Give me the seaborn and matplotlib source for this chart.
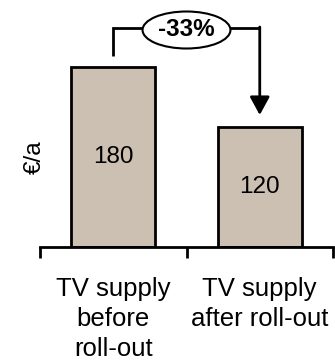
import matplotlib
matplotlib.use("Agg")
import matplotlib.pyplot as plt
from matplotlib.patches import Ellipse
import seaborn as sns

categories = ["TV supply\nbefore\nroll-out", "TV supply\nafter roll-out"]
values = [180, 120]
change_label = "-33%"

sns.set_theme(style="white")
plt.rcParams["font.family"] = ["Liberation Sans", "DejaVu Sans"]
plt.rcParams["text.color"] = "black"
plt.rcParams["xtick.color"] = "black"

bar_color = "#CBC0B1"

fig = plt.figure(figsize=(3.35, 3.62), dpi=100)
ax = fig.add_axes([40 / 335, 115 / 362, 293 / 335, 247 / 362])

sns.barplot(x=list(range(len(values))), y=values, color=bar_color,
            edgecolor="black", linewidth=2, width=0.57, saturation=1, ax=ax)

ax.set_xlim(-0.5, 1.5)
ax.set_ylim(0, 247)

# category boundaries carry the tick marks, centres carry the labels
ax.set_xticks([-0.5, 0.5, 1.5])
ax.set_xticklabels([])
ax.set_xticks([0, 1], minor=True)
ax.set_xticklabels(categories, minor=True, fontsize=18.5, linespacing=1.33,
                   color="black")
ax.tick_params(axis="x", which="major", length=8, width=2, color="black",
               direction="out", bottom=True)
ax.tick_params(axis="x", which="minor", length=0, pad=21.5)
ax.set_yticks([])
ax.set_ylabel("")
ax.set_xlabel("")

for s in ["left", "top", "right"]:
    ax.spines[s].set_visible(False)
ax.spines["bottom"].set_color("black")
ax.spines["bottom"].set_linewidth(2)

for i, v in enumerate(values):
    ax.text(i, v / 2, str(v), ha="center", va="center", fontsize=17.5,
            color="black")

fig.text(35 / 335, 1 - 157 / 362, "€/a", rotation=90, ha="center",
         va="center", fontsize=17.5, color="black")

# change bracket from the first bar to the second
top_y = 219
ax.plot([0, 0, 0.5], [values[0] + 11, top_y, top_y], color="black", lw=2,
        clip_on=False, solid_capstyle="butt", solid_joinstyle="miter")
ax.plot([0.5, 1], [top_y, top_y], color="black", lw=2, clip_on=False,
        solid_capstyle="butt", solid_joinstyle="miter")
ax.annotate("", xy=(1, values[1] + 12), xytext=(1, top_y + 1),
            arrowprops=dict(arrowstyle="-|>,head_length=0.55,head_width=0.3",
                            mutation_scale=20, lw=2, color="black",
                            shrinkA=0, shrinkB=0),
            annotation_clip=False)
ax.add_patch(Ellipse((0.5, top_y - 2), 0.6, 37, facecolor="white",
                     edgecolor="black", lw=1.5, clip_on=False, zorder=5))
ax.text(0.5, top_y - 2, change_label, ha="center", va="center", fontsize=17.5,
        fontweight="bold", zorder=6)

fig.savefig("out.png", dpi=100)
